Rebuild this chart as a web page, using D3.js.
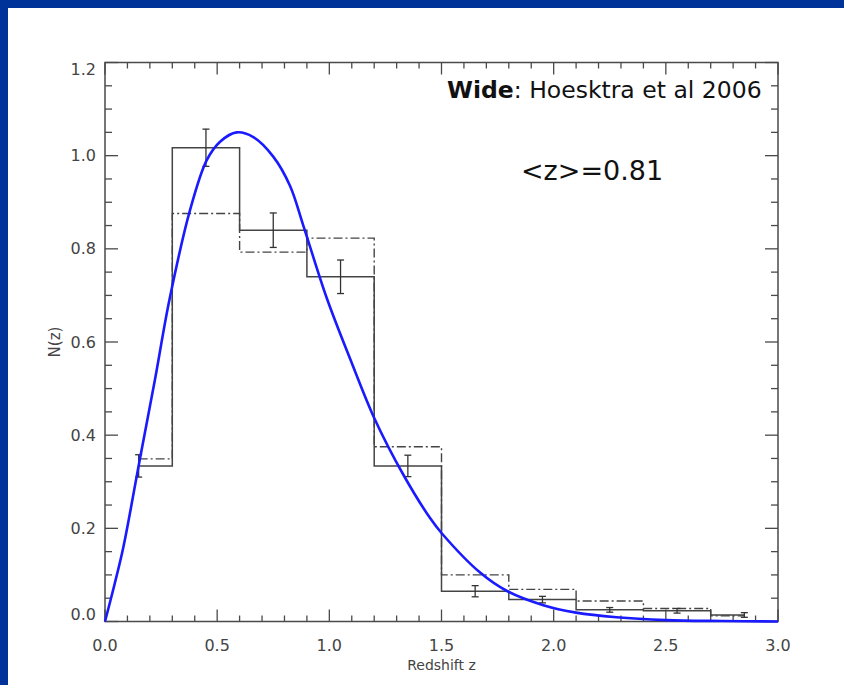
<!DOCTYPE html>
<html>
<head>
<meta charset="utf-8">
<script src="https://cdn.jsdelivr.net/npm/d3@7/dist/d3.min.js"></script>
<style>
  body { margin: 0; background: #fff; }
  svg { display: block; }
  .tick-label { font-family: "DejaVu Sans", sans-serif; font-size: 16px; fill: #444; }
</style>
</head>
<body>
<div id="chart"></div>
<script>
// bin centres (histogram drawn IDL psym=10 style)
const binCenters = [0.15, 0.45, 0.75, 1.05, 1.35, 1.65, 1.95, 2.25, 2.55, 2.85];
// solid histogram + error bars
const wideN = [0.334, 1.017, 0.840, 0.740, 0.334, 0.065, 0.047, 0.025, 0.023, 0.014];
const wideErr = [0.024, 0.040, 0.037, 0.036, 0.023, 0.012, 0.007, 0.005, 0.005, 0.005];
// dash-dot histogram
const altN = [0.349, 0.876, 0.793, 0.823, 0.375, 0.100, 0.069, 0.044, 0.028, 0.012];
// blue fitted curve
const fitZ = [0, 0.04, 0.082, 0.156, 0.223, 0.287, 0.379, 0.453, 0.513, 0.587, 0.661, 0.75, 0.825, 0.884,
  0.988, 1.1, 1.2, 1.33, 1.449, 1.5, 1.672, 1.79, 1.954, 2.1, 2.28, 2.5, 2.75, 3.0];
const fitN = [0, 0.075, 0.16, 0.35, 0.52, 0.69, 0.883, 0.99, 1.03, 1.05, 1.04, 0.998, 0.935, 0.85,
  0.695, 0.555, 0.437, 0.315, 0.222, 0.19, 0.105, 0.066, 0.035, 0.019, 0.009, 0.003, 0.001, 0];
// axis ticks
const xTicks = [0, 0.5, 1.0, 1.5, 2.0, 2.5, 3.0];
const yTicks = [0, 0.2, 0.4, 0.6, 0.8, 1.0, 1.2];
const xMinorStep = 0.1;
const yMinorStep = 0.05;

const width = 844, height = 685;
const plot = { left: 105, right: 778, top: 62.5, bottom: 621.5 };
const axisColor = '#4a4a4a';

const svg = d3.select('#chart').append('svg')
  .attr('width', width)
  .attr('height', height);

// blue slide frame (top and left)
svg.append('rect').attr('x', 0).attr('y', 0).attr('width', width).attr('height', 8).attr('fill', '#003399');
svg.append('rect').attr('x', 0).attr('y', 0).attr('width', 8).attr('height', height).attr('fill', '#003399');

// scales
const x = d3.scaleLinear().domain([0, 3]).range([plot.left, plot.right]);
const y = d3.scaleLinear().domain([0, 1.2]).range([plot.bottom, plot.top]);

const xMinor = d3.range(0, 3 + 1e-9, xMinorStep);
const yMinor = d3.range(0, 1.2 + 1e-9, yMinorStep);
const isMajor = (v, list) => list.some(t => Math.abs(t - v) < 1e-6);

const g = svg.append('g');

// frame
g.append('rect')
  .attr('x', plot.left).attr('y', plot.top)
  .attr('width', plot.right - plot.left).attr('height', plot.bottom - plot.top)
  .attr('fill', 'none').attr('stroke', axisColor).attr('stroke-width', 1.5);

// x ticks (bottom and top), IDL style pointing inward
xMinor.forEach(v => {
  const len = isMajor(v, xTicks) ? 12 : 6;
  g.append('line').attr('x1', x(v)).attr('x2', x(v))
    .attr('y1', plot.bottom).attr('y2', plot.bottom - len)
    .attr('stroke', axisColor).attr('stroke-width', 1.3);
  g.append('line').attr('x1', x(v)).attr('x2', x(v))
    .attr('y1', plot.top).attr('y2', plot.top + len)
    .attr('stroke', axisColor).attr('stroke-width', 1.3);
});
// y ticks (left and right)
yMinor.forEach(v => {
  const len = isMajor(v, yTicks) ? 13 : 7;
  g.append('line').attr('y1', y(v)).attr('y2', y(v))
    .attr('x1', plot.left).attr('x2', plot.left + len)
    .attr('stroke', axisColor).attr('stroke-width', 1.3);
  g.append('line').attr('y1', y(v)).attr('y2', y(v))
    .attr('x1', plot.right).attr('x2', plot.right - len)
    .attr('stroke', axisColor).attr('stroke-width', 1.3);
});

// tick labels
g.selectAll('.xlab').data(xTicks).enter().append('text')
  .attr('class', 'tick-label')
  .attr('x', d => x(d))
  .attr('y', plot.bottom + 29)
  .attr('text-anchor', 'middle')
  .text(d => d3.format('.1f')(d));

g.selectAll('.ylab').data(yTicks).enter().append('text')
  .attr('class', 'tick-label')
  .attr('x', plot.left - 9)
  .attr('y', (d, i) => y(d) + (i === 0 ? -7 : i === yTicks.length - 1 ? 7 : 0))
  .attr('dy', '0.35em')
  .attr('text-anchor', 'end')
  .text(d => d3.format('.1f')(d));

// axis titles
svg.append('text')
  .attr('x', (plot.left + plot.right) / 2)
  .attr('y', 670)
  .attr('text-anchor', 'middle')
  .style('font-family', '"DejaVu Sans", sans-serif')
  .style('font-size', '14px')
  .style('fill', '#444')
  .text('Redshift z');

svg.append('text')
  .attr('transform', `translate(60, ${(plot.top + plot.bottom) / 2}) rotate(-90)`)
  .attr('text-anchor', 'middle')
  .style('font-family', '"DejaVu Sans", sans-serif')
  .style('font-size', '15px')
  .style('fill', '#444')
  .text('N(z)');

// histograms
const stepLine = d3.line()
  .x(d => x(d[0]))
  .y(d => y(d[1]))
  .curve(d3.curveStep);

svg.append('path')
  .datum(binCenters.map((c, i) => [c, altN[i]]))
  .attr('d', stepLine)
  .attr('fill', 'none')
  .attr('stroke', '#444')
  .attr('stroke-width', 1.4)
  .attr('stroke-dasharray', '9,3,2,3');

svg.append('path')
  .datum(binCenters.map((c, i) => [c, wideN[i]]))
  .attr('d', stepLine)
  .attr('fill', 'none')
  .attr('stroke', '#444')
  .attr('stroke-width', 1.5);

// error bars
const eb = svg.append('g').attr('stroke', '#333').attr('stroke-width', 1.3);
binCenters.forEach((c, i) => {
  const lo = y(wideN[i] - wideErr[i]), hi = y(wideN[i] + wideErr[i]);
  eb.append('line').attr('x1', x(c)).attr('x2', x(c)).attr('y1', lo).attr('y2', hi);
  eb.append('line').attr('x1', x(c) - 3.5).attr('x2', x(c) + 3.5).attr('y1', lo).attr('y2', lo);
  eb.append('line').attr('x1', x(c) - 3.5).attr('x2', x(c) + 3.5).attr('y1', hi).attr('y2', hi);
});

// fitted curve
const fitLine = d3.line()
  .x(d => x(d[0]))
  .y(d => y(d[1]))
  .curve(d3.curveCatmullRom.alpha(0.5));

svg.append('path')
  .datum(fitZ.map((z, i) => [z, fitN[i]]))
  .attr('d', fitLine)
  .attr('fill', 'none')
  .attr('stroke', '#1a1aff')
  .attr('stroke-width', 2.6);

// annotations
const note = svg.append('text')
  .attr('x', 447)
  .attr('y', 98)
  .style('font-family', '"DejaVu Sans", sans-serif')
  .style('font-size', '23.5px')
  .style('fill', '#111');
note.append('tspan').style('font-weight', 'bold').text('Wide');
note.append('tspan').text(': Hoesktra et al 2006');

svg.append('text')
  .attr('x', 521)
  .attr('y', 180)
  .style('font-family', '"DejaVu Sans", sans-serif')
  .style('font-size', '27px')
  .style('fill', '#111')
  .text('<z>=0.81');
</script>
</body>
</html>
